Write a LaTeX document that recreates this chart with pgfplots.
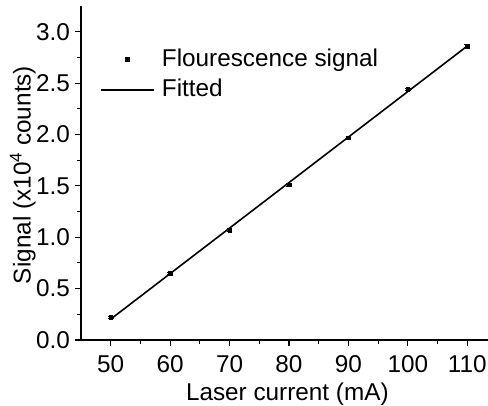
\documentclass[border=0pt]{standalone}
\usepackage{pgfplots}
\pgfplotsset{compat=1.18}
\usepackage{fontspec}
\setmainfont{Liberation Sans}
\begin{document}
\fontsize{24.4}{28}\selectfont
\begin{tikzpicture}
\begin{axis}[
  at={(81bp,66bp)}, anchor=south west,
  scale only axis, width=407bp, height=334bp,
  xmin=45, xmax=113.5, ymin=0, ymax=3.25,
  axis lines*=left,
  axis line style={line width=1.3bp},
  every tick/.style={line width=1.1bp, black},
  xtick={50,60,...,110}, minor x tick num=1,
  ytick={0,0.5,...,3}, minor y tick num=1,
  tick align=outside, major tick length=6bp, minor tick length=3.5bp,
  /pgf/number format/assume math mode=true,
  yticklabel style={/pgf/number format/fixed, /pgf/number format/fixed zerofill, /pgf/number format/precision=1, inner sep=0pt, xshift=-5bp},
  xticklabel style={inner sep=0pt, yshift=-9bp},
  xlabel={Laser current (mA)},
  ylabel={Signal (x10\textsuperscript{4} counts)},
  xlabel style={inner sep=0pt, at={(axis description cs:0.507,-0.127)}, anchor=north},
  ylabel style={inner sep=0pt, at={(axis description cs:-0.111,0.494)}, anchor=south},
  legend style={draw=none, fill=none, at={(axis description cs:0.047,0.878)}, anchor=north west, row sep=5bp, inner sep=0pt, nodes={inner sep=2bp}},
  legend cell align=left,
]
\addplot[only marks, mark=square*, mark size=1.8bp, black,
  legend image code/.code={\fill[black] (26bp-1.9bp,-1.9bp) rectangle (26bp+1.9bp,1.9bp); \path (0,0) (58bp,0);},
  error bars/.cd, y dir=both, y explicit, error mark options={rotate=90, mark size=2.8bp, line width=0.9bp}, error bar style={line width=0.9bp}]
  coordinates {
  (50,0.22) +- (0,0.012)
  (60,0.65) +- (0,0.012)
  (70,1.07) +- (0,0.012)
  (80,1.51) +- (0,0.012)
  (90,1.97) +- (0,0.012)
  (100,2.44) +- (0,0.012)
  (110,2.86) +- (0,0.012)
  };
\addlegendentry{Flourescence signal}
\addplot[black, line width=1.6bp, legend image code/.code={\draw[black, line width=1.6bp] (0,0) -- (53bp,0); \path (58bp,0);}]
  coordinates {(50,0.203) (110,2.860)};
\addlegendentry{Fitted}
\end{axis}
\pgfresetboundingbox
\path[use as bounding box] (0,0) rectangle (488bp,406bp);
\end{tikzpicture}
\end{document}
